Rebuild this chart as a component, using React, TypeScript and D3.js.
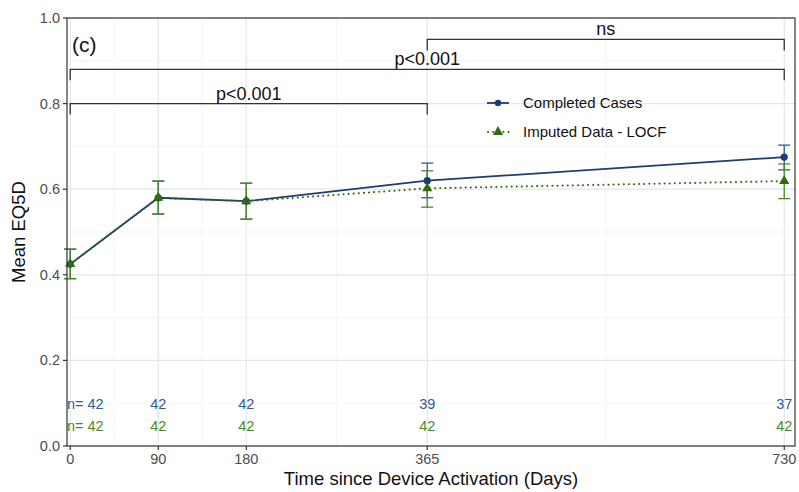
import React from "react";
import * as d3 from "d3";

const days = [0, 90, 180, 365, 730];
const completedMean = [0.425, 0.58, 0.572, 0.62, 0.675];
const completedLow = [0.391, 0.542, 0.53, 0.58, 0.645];
const completedHigh = [0.46, 0.619, 0.614, 0.661, 0.703];
const imputedMean = [0.425, 0.58, 0.572, 0.602, 0.619];
const imputedLow = [0.391, 0.542, 0.53, 0.558, 0.578];
const imputedHigh = [0.46, 0.619, 0.614, 0.643, 0.659];
const completedN = [42, 42, 42, 39, 37];
const imputedN = [42, 42, 42, 42, 42];
const yTicks = [0, 0.2, 0.4, 0.6, 0.8, 1.0];
const yMinor = [0.1, 0.3, 0.5, 0.7, 0.9];
const xMinor = [45, 135, 272.5, 547.5];
const brackets = [
	{from: 0, to: 365, y: 0.8, label: "p<0.001"},
	{from: 0, to: 730, y: 0.88, label: "p<0.001"},
	{from: 365, to: 730, y: 0.95, label: "ns"},
];

const W = 799;
const H = 492;
const margin = {top: 18, right: 4, bottom: 46, left: 67};
const BLUE = "#1c3d70";
const BLUE_TXT = "#2f5b9a";
const GREEN = "#2f6b0f";
const GREEN_ERR = "#4a8a2a";
const GREEN_TXT = "#4a8a22";
const FONT = "'Liberation Sans', Arial, sans-serif";

export default function App() {
	const x = d3.scaleLinear().domain([-3.3, 741]).range([margin.left, W - margin.right]);
	const y = d3.scaleLinear().domain([0, 1]).range([H - margin.bottom, margin.top]);
	const line = d3
		.line<number>()
		.x((_, i) => x(days[i]))
		.y((d) => y(d));
	const tri = d3.symbol().type(d3.symbolTriangle).size(45)() || "";

	const x0 = x.range()[0];
	const x1 = x.range()[1];
	const y0 = y.range()[0];
	const y1 = y.range()[1];

	const errBars = (lo: number[], hi: number[], color: string, key: string) =>
		days.map((d, i) => (
			<g key={key + i} stroke={color} strokeWidth={1.3}>
				<line x1={x(d)} x2={x(d)} y1={y(lo[i])} y2={y(hi[i])} />
				<line x1={x(d) - 6} x2={x(d) + 6} y1={y(lo[i])} y2={y(lo[i])} />
				<line x1={x(d) - 6} x2={x(d) + 6} y1={y(hi[i])} y2={y(hi[i])} />
			</g>
		));

	return (
		<div style={{position: "absolute", left: 0, top: 0}}>
			<svg width={W} height={H} style={{display: "block", fontFamily: FONT}}>
				<rect width={W} height={H} fill="#fff" />
				{/* grid */}
				{yMinor.map((t) => (
					<line key={"ym" + t} x1={x0} x2={x1} y1={y(t)} y2={y(t)} stroke="#f2f2f2" strokeWidth={0.8} />
				))}
				{xMinor.map((t) => (
					<line key={"xm" + t} x1={x(t)} x2={x(t)} y1={y0} y2={y1} stroke="#f2f2f2" strokeWidth={0.8} />
				))}
				{yTicks.map((t) => (
					<line key={"yg" + t} x1={x0} x2={x1} y1={y(t)} y2={y(t)} stroke="#e6e6e6" strokeWidth={1.2} />
				))}
				{days.map((t) => (
					<line key={"xg" + t} x1={x(t)} x2={x(t)} y1={y0} y2={y1} stroke="#e6e6e6" strokeWidth={1.2} />
				))}

				{/* brackets */}
				{brackets.map((b, i) => (
					<g key={"br" + i}>
						<path
							d={`M${x(b.from)},${y(b.y) + 11}V${y(b.y)}H${x(b.to)}V${y(b.y) + 11}`}
							fill="none"
							stroke="#333"
							strokeWidth={1.3}
						/>
						<text
							x={(x(b.from) + x(b.to)) / 2}
							y={y(b.y) - 4}
							textAnchor="middle"
							fontSize={18}
							fill="#111"
						>
							{b.label}
						</text>
					</g>
				))}

				<text x={72} y={52} fontSize={21} fill="#111">(c)</text>

				{/* series */}
				{errBars(completedLow, completedHigh, BLUE_TXT, "ce")}
				{errBars(imputedLow, imputedHigh, GREEN_ERR, "ie")}
				<path d={line(completedMean) || ""} fill="none" stroke={BLUE} strokeWidth={1.8} />
				<path
					d={line(imputedMean) || ""}
					fill="none"
					stroke={GREEN}
					strokeWidth={2}
					strokeDasharray="0.1 5"
					strokeLinecap="round"
				/>
				{completedMean.map((v, i) => (
					<circle key={"cp" + i} cx={x(days[i])} cy={y(v)} r={3.6} fill={BLUE} />
				))}
				{imputedMean.map((v, i) => (
					<path key={"ip" + i} d={tri} transform={`translate(${x(days[i])},${y(v)})`} fill={GREEN} />
				))}

				{/* n labels */}
				{completedN.map((n, i) => (
					<text
						key={"cn" + i}
						x={i === 0 ? x0 : x(days[i])}
						y={409}
						textAnchor={i === 0 ? "start" : "middle"}
						fontSize={14.5}
						fill={BLUE_TXT}
					>
						{i === 0 ? "n= " + n : n}
					</text>
				))}
				{imputedN.map((n, i) => (
					<text
						key={"in" + i}
						x={i === 0 ? x0 : x(days[i])}
						y={431}
						textAnchor={i === 0 ? "start" : "middle"}
						fontSize={14.5}
						fill={GREEN_TXT}
					>
						{i === 0 ? "n= " + n : n}
					</text>
				))}

				{/* legend */}
				<g transform="translate(487,103)">
					<line x1={0} x2={22} y1={0} y2={0} stroke={BLUE} strokeWidth={1.8} />
					<circle cx={11} cy={0} r={3.2} fill={BLUE} />
					<text x={36} y={5} fontSize={15} fill="#111">Completed Cases</text>
				</g>
				<g transform="translate(487,132)">
					<line x1={1} x2={22} y1={0} y2={0} stroke={GREEN} strokeWidth={2} strokeDasharray="0.1 5" strokeLinecap="round" />
					<path d={tri} transform="translate(11,0)" fill={GREEN} />
					<text x={36} y={5} fontSize={15} fill="#111">Imputed Data - LOCF</text>
				</g>

				{/* panel border */}
				<rect x={x0} y={y1} width={x1 - x0} height={y0 - y1} fill="none" stroke="#333" strokeWidth={1.2} />

				{/* y axis */}
				{yTicks.map((t) => (
					<g key={"yt" + t}>
						<line x1={x0 - 4} x2={x0} y1={y(t)} y2={y(t)} stroke="#333" strokeWidth={1.2} />
						<text x={x0 - 7} y={y(t) + 5} textAnchor="end" fontSize={14.5} fill="#4d4d4d">
							{d3.format(".1f")(t)}
						</text>
					</g>
				))}
				{/* x axis */}
				{days.map((t) => (
					<g key={"xt" + t}>
						<line x1={x(t)} x2={x(t)} y1={y0} y2={y0 + 4} stroke="#333" strokeWidth={1.2} />
						<text x={x(t)} y={y0 + 18} textAnchor="middle" fontSize={14.5} fill="#4d4d4d">
							{t}
						</text>
					</g>
				))}
				<text x={(x0 + x1) / 2} y={485} textAnchor="middle" fontSize={18.5} fill="#111">
					Time since Device Activation (Days)
				</text>
				<text
					transform={`translate(25,${(y0 + y1) / 2}) rotate(-90)`}
					textAnchor="middle"
					fontSize={18.5}
					fill="#111"
				>
					Mean EQ5D
				</text>
			</svg>
		</div>
	);
}
